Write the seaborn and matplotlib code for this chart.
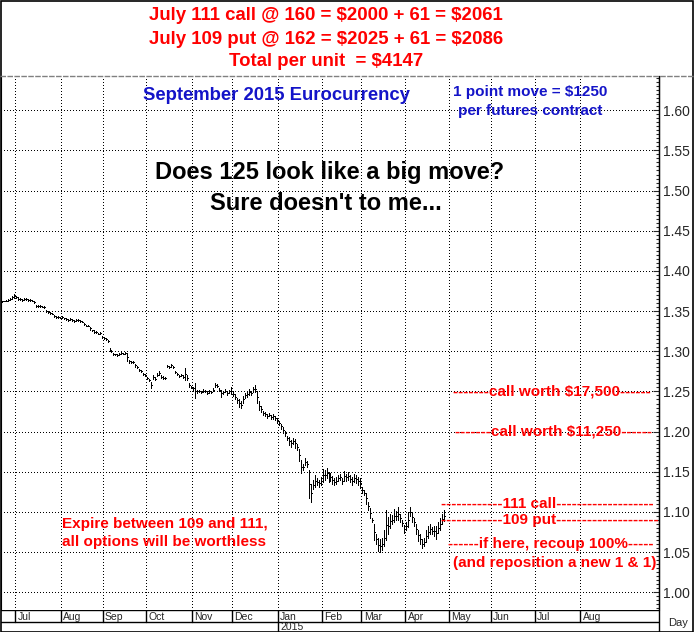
import numpy as np
import pandas as pd
import matplotlib
matplotlib.use("Agg")
import matplotlib.pyplot as plt
import seaborn as sns
from matplotlib.lines import Line2D
from matplotlib.patches import Rectangle

# September 2015 Euro FX futures, daily high / low (Jun 20 2014 - Apr 28 2015)
highs = [
    1.363, 1.363, 1.364, 1.365, 1.366, 1.369, 1.371, 1.369, 1.367, 1.366,
    1.365, 1.366, 1.366, 1.365, 1.365, 1.364, 1.362, 1.358, 1.357, 1.357,
    1.356, 1.356, 1.351, 1.350, 1.349, 1.348, 1.345, 1.344, 1.344, 1.343,
    1.344, 1.342, 1.341, 1.340, 1.341, 1.340, 1.339, 1.340, 1.340, 1.339,
    1.338, 1.335, 1.333, 1.333, 1.330, 1.327, 1.326, 1.325, 1.323, 1.324,
    1.319, 1.318, 1.316, 1.314, 1.304, 1.302, 1.298, 1.297, 1.296, 1.298,
    1.299, 1.298, 1.299, 1.298, 1.289, 1.288, 1.288, 1.284, 1.282, 1.278,
    1.277, 1.273, 1.272, 1.268, 1.266, 1.262, 1.270, 1.268, 1.273, 1.275,
    1.270, 1.269, 1.268, 1.283, 1.282, 1.284, 1.282, 1.276, 1.273, 1.271,
    1.272, 1.270, 1.279, 1.270, 1.260, 1.257, 1.256, 1.260, 1.252, 1.252,
    1.251, 1.253, 1.252, 1.250, 1.252, 1.251, 1.254, 1.260, 1.259, 1.254,
    1.252, 1.251, 1.253, 1.250, 1.252, 1.255, 1.250, 1.247, 1.242, 1.240,
    1.238, 1.244, 1.248, 1.250, 1.253, 1.251, 1.256, 1.258, 1.250, 1.238,
    1.232, 1.226, 1.225, 1.222, 1.223, 1.221, 1.222, 1.219, 1.217, 1.213,
    1.210, 1.206, 1.201, 1.195, 1.193, 1.190, 1.192, 1.191, 1.185, 1.178,
    1.165, 1.160, 1.167, 1.164, 1.152, 1.135, 1.140, 1.146, 1.142, 1.140,
    1.143, 1.154, 1.152, 1.155, 1.150, 1.148, 1.145, 1.142, 1.143, 1.146,
    1.147, 1.142, 1.151, 1.147, 1.150, 1.146, 1.144, 1.147, 1.146, 1.144,
    1.142, 1.131, 1.127, 1.124, 1.112, 1.105, 1.092, 1.085, 1.072, 1.067,
    1.066, 1.068, 1.078, 1.103, 1.094, 1.098, 1.096, 1.104, 1.101, 1.106,
    1.098, 1.090, 1.084, 1.087, 1.100, 1.106, 1.100, 1.093, 1.085, 1.078,
    1.073, 1.066, 1.068, 1.077, 1.083, 1.085, 1.081, 1.083, 1.082, 1.087,
    1.092, 1.097, 1.102,
]
lows = [
    1.361, 1.362, 1.362, 1.363, 1.364, 1.365, 1.366, 1.366, 1.364, 1.364,
    1.363, 1.364, 1.364, 1.363, 1.363, 1.362, 1.360, 1.355, 1.355, 1.355,
    1.355, 1.354, 1.349, 1.348, 1.347, 1.346, 1.343, 1.342, 1.342, 1.341,
    1.342, 1.340, 1.339, 1.338, 1.339, 1.338, 1.337, 1.338, 1.338, 1.337,
    1.336, 1.333, 1.331, 1.331, 1.327, 1.325, 1.323, 1.323, 1.321, 1.322,
    1.317, 1.315, 1.314, 1.312, 1.300, 1.299, 1.295, 1.295, 1.294, 1.295,
    1.296, 1.296, 1.296, 1.288, 1.286, 1.286, 1.286, 1.281, 1.279, 1.275,
    1.274, 1.271, 1.269, 1.265, 1.263, 1.254, 1.266, 1.264, 1.269, 1.271,
    1.267, 1.265, 1.265, 1.280, 1.279, 1.281, 1.279, 1.273, 1.270, 1.268,
    1.269, 1.267, 1.264, 1.264, 1.256, 1.254, 1.252, 1.242, 1.248, 1.249,
    1.248, 1.249, 1.249, 1.247, 1.248, 1.248, 1.250, 1.256, 1.255, 1.250,
    1.243, 1.247, 1.249, 1.246, 1.248, 1.247, 1.244, 1.240, 1.236, 1.231,
    1.229, 1.236, 1.242, 1.243, 1.245, 1.246, 1.249, 1.249, 1.236, 1.227,
    1.225, 1.221, 1.219, 1.217, 1.219, 1.216, 1.216, 1.214, 1.211, 1.208,
    1.203, 1.198, 1.195, 1.189, 1.183, 1.181, 1.184, 1.180, 1.177, 1.163,
    1.148, 1.152, 1.158, 1.156, 1.118, 1.112, 1.128, 1.131, 1.133, 1.131,
    1.134, 1.137, 1.140, 1.142, 1.137, 1.138, 1.135, 1.133, 1.135, 1.138,
    1.140, 1.135, 1.139, 1.139, 1.140, 1.137, 1.134, 1.137, 1.136, 1.134,
    1.130, 1.123, 1.121, 1.110, 1.102, 1.092, 1.087, 1.065, 1.060, 1.052,
    1.050, 1.053, 1.058, 1.065, 1.072, 1.080, 1.085, 1.087, 1.090, 1.090,
    1.087, 1.082, 1.074, 1.077, 1.081, 1.095, 1.088, 1.082, 1.072, 1.064,
    1.060, 1.055, 1.058, 1.063, 1.068, 1.073, 1.072, 1.070, 1.066, 1.074,
    1.078, 1.085, 1.089,
]

month_labels = ["Jul", "Aug", "Sep", "Oct", "Nov", "Dec", "Jan",
                "Feb", "Mar", "Apr", "May", "Jun", "Jul", "Aug"]
year_label = "2015"
y_ticks = [1.00, 1.05, 1.10, 1.15, 1.20, 1.25, 1.30, 1.35, 1.40, 1.45, 1.50, 1.55, 1.60]

header_lines = [r"July 111 call @ 160 = \$2000 + 61 = \$2061",
                r"July 109 put @ 162 = \$2025 + 61 = \$2086",
                r"Total per unit  = \$4147"]
level_notes = [(1.25, r"-------call worth \$17,500------"),
               (1.20, r"-------call worth \$11,250------"),
               (1.11, "------------111 call-------------------"),
               (1.09, "------------109 put--------------------"),
               (1.06, "------if here, recoup 100%-----")]

sns.set_style("white")
plt.rcParams["font.family"] = ["Liberation Sans", "DejaVu Sans"]

W, H = 694, 632
fig = plt.figure(figsize=(W / 100, H / 100), dpi=100)
fig.patch.set_facecolor("white")

# trading-day axis
days = pd.bdate_range("2014-06-20", "2015-09-30")
pos = np.arange(len(days))
starts = [i for i in range(1, len(days)) if days[i].month != days[i - 1].month]
starts = starts[:len(month_labels)]

ax = fig.add_axes([1 / W, 1 - 610 / H, 658 / W, 534 / H])
ax.set_xlim(-0.5, 330)
ax.set_ylim(0.978, 1.6426)

grid_kw = dict(color="black", lw=0.72, ls=(0, (1, 2.5)), zorder=0,
               antialiased=False)
for y in y_ticks:
    ax.axhline(y, **grid_kw)
for s in starts:
    ax.axvline(s - 0.5, **grid_kw)

n = len(highs)
bars = pd.DataFrame({
    "day": np.repeat(pos[:n], 2),
    "price": np.ravel(np.column_stack([lows, highs])),
})
sns.lineplot(data=bars, x="day", y="price", units="day", estimator=None,
             color="black", lw=0.72, ax=ax, legend=False, sort=False,
             antialiased=False)
mid = (np.array(highs) + np.array(lows)) / 2
ax.hlines(mid, pos[:n], pos[:n] + 0.5, color="black", lw=0.72, antialiased=False)
ax.set_xlabel("")
ax.set_ylabel("")

ax.yaxis.tick_right()
ax.set_yticks(y_ticks)
ax.set_yticklabels([f"{v:.2f}" for v in y_ticks])
ax.set_yticks(np.arange(0.98, 1.645, 0.005), minor=True)
ax.tick_params(axis="y", which="major", direction="in", length=4, width=0.8,
               labelsize=10, pad=3, right=True, left=False)
ax.tick_params(axis="y", which="minor", direction="in", length=2.5, width=0.8,
               right=True, left=False)
ax.set_xticks([])
for side in ["top", "bottom"]:
    ax.spines[side].set_visible(False)
ax.spines["right"].set_color("black")
ax.spines["left"].set_color("black")

# annotations
blue = "#1414c8"
fig.text(276 / W, 1 - 96 / H, "September 2015 Eurocurrency", color=blue,
         fontsize=13.3, fontweight="bold", ha="center", va="center")
fig.text(530 / W, 1 - 92 / H, r"1 point move = \$1250", color=blue,
         fontsize=11, fontweight="bold", ha="center", va="center")
fig.text(530 / W, 1 - 111 / H, "per futures contract", color=blue,
         fontsize=11, fontweight="bold", ha="center", va="center")
fig.text(330 / W, 1 - 172 / H, "Does 125 look like a big move?", color="black",
         fontsize=17, fontweight="bold", ha="center", va="center")
fig.text(326 / W, 1 - 204 / H, "Sure doesn't to me...", color="black",
         fontsize=17, fontweight="bold", ha="center", va="center")
fig.text(62 / W, 1 - 524 / H, "Expire between 109 and 111,", color="red",
         fontsize=11, fontweight="bold", ha="left", va="center")
fig.text(62 / W, 1 - 542 / H, "all options will be worthless", color="red",
         fontsize=11, fontweight="bold", ha="left", va="center")

note_x = [453, 455, 441, 441, 448]
for (lvl, txt), px in zip(level_notes, note_x):
    ax.text((px - 2) / 1.99, lvl, txt, color="red", fontsize=11,
            fontweight="bold", ha="left", va="center")
ax.text((453 - 2) / 1.99, 1.037, "(and reposition a new 1 & 1)", color="red",
        fontsize=11, fontweight="bold", ha="left", va="center")

for line, py in zip(header_lines, [15, 39, 61]):
    fig.text(326 / W, 1 - py / H, line, color="red", fontsize=13.4,
             fontweight="bold", ha="center", va="center")

# date rows under the chart
axm = fig.add_axes([1 / W, 0, 658 / W, 22 / H])
axm.set_xlim(-0.5, 330)
axm.set_ylim(0, 22)
axm.axis("off")
axm.axhline(10, color="black", lw=1)
axm.axhline(22, color="black", lw=1)
for s, lab in zip(starts, month_labels):
    axm.plot([s - 0.5, s - 0.5], [10, 22], color="black", lw=1)
    axm.text(s + 0.7, 15.5, lab, fontsize=7.5, ha="left", va="center")
jan = starts[month_labels.index("Jan")]
axm.plot([jan - 0.5, jan - 0.5], [0, 10], color="black", lw=1)
axm.text(jan + 0.7, 4.5, year_label, fontsize=7.5, ha="left", va="center")

fig.text(678 / W, 1 - 623 / H, "Day", fontsize=8, ha="center", va="center")

fig.add_artist(Line2D([0, 1], [1 - 76 / H] * 2, color="gray", lw=1,
                      ls=(0, (4, 1)), transform=fig.transFigure))
fig.add_artist(Line2D([659 / W] * 2, [0, 1 - 76 / H], color="black", lw=1,
                      transform=fig.transFigure))
fig.add_artist(Rectangle((0.5 / W, 0.5 / H), 1 - 1.5 / W, 1 - 1.5 / H,
                         fill=False, ec="black", lw=1.2, transform=fig.transFigure))

fig.savefig("out.png", dpi=100)
